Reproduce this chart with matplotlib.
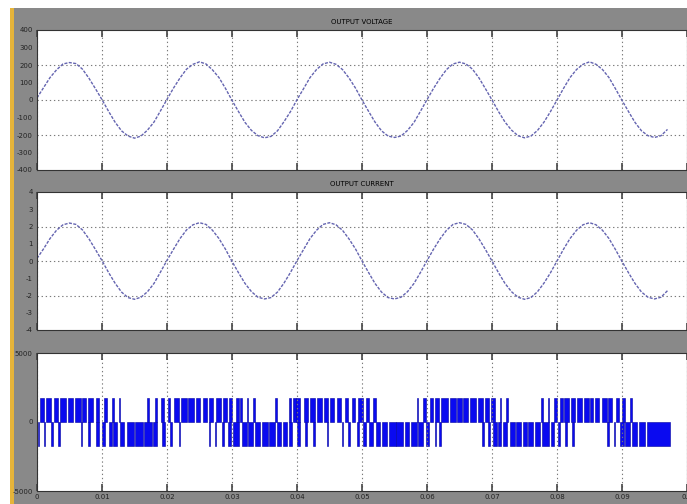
import numpy as np
import matplotlib
matplotlib.use("Agg")
import matplotlib.pyplot as plt
from matplotlib.patches import Rectangle

t_ms = np.arange(98)
voltage = [12, 70, 128, 172, 206, 214, 208, 176, 124, 64, 2, -64, -126, -176, -206, -218, -206, -172, -126, -62,
           4, 68, 126, 176, 204, 218, 206, 172, 128, 66, -2, -66, -128, -174, -204, -216, -208, -176, -124, -66,
           2, 64, 128, 174, 206, 216, 204, 174, 126, 68, 0, -64, -126, -176, -206, -214, -206, -174, -128, -64,
           2, 66, 124, 174, 206, 216, 206, 176, 126, 64, 0, -66, -126, -172, -204, -216, -206, -174, -126, -66,
           0, 66, 128, 174, 204, 218, 204, 174, 128, 64, -2, -66, -128, -176, -204, -214, -204, -168]
current = [0.15, 0.70, 1.30, 1.78, 2.10, 2.20, 2.12, 1.80, 1.28, 0.66, 0.02, -0.66, -1.28, -1.80, -2.12, -2.22, -2.10, -1.78, -1.30, -0.64,
           0.04, 0.68, 1.30, 1.80, 2.10, 2.22, 2.12, 1.78, 1.30, 0.68, -0.02, -0.68, -1.30, -1.78, -2.10, -2.20, -2.12, -1.80, -1.28, -0.66,
           0.02, 0.66, 1.30, 1.78, 2.12, 2.22, 2.10, 1.78, 1.28, 0.70, 0.00, -0.66, -1.30, -1.80, -2.12, -2.20, -2.10, -1.78, -1.30, -0.66,
           0.02, 0.68, 1.28, 1.78, 2.12, 2.22, 2.12, 1.80, 1.28, 0.66, 0.00, -0.68, -1.30, -1.78, -2.10, -2.22, -2.12, -1.78, -1.28, -0.68,
           0.00, 0.68, 1.30, 1.78, 2.10, 2.22, 2.10, 1.78, 1.30, 0.66, -0.02, -0.68, -1.30, -1.80, -2.10, -2.20, -2.10, -1.72]

# PWM pulses, (on, off) in ms
pos_pulses = [(0.5, 1.1), (1.4, 2.2), (2.6, 3.2), (3.6, 4.4), (4.7, 5.5), (5.9, 6.7), (6.9, 7.6), (7.9, 8.6),
              (9.0, 9.5), (10.3, 10.7), (11.5, 11.9), (12.6, 12.8), (16.9, 17.2), (18.2, 18.5), (19.1, 19.6),
              (20.1, 20.5), (21.1, 21.8), (22.2, 23.0), (23.3, 24.1), (24.4, 25.1),
              (25.6, 26.2), (26.5, 27.1), (27.5, 28.3), (28.6, 29.2), (29.6, 30.0), (30.6, 31.0), (31.2, 31.5),
              (32.3, 32.5), (33.3, 33.5), (36.6, 36.9), (38.7, 39.0), (39.4, 39.8), (39.9, 40.5), (41.0, 41.7),
              (42.0, 42.8), (43.0, 43.8), (44.1, 44.7), (45.1, 45.7), (46.2, 46.7), (47.4, 47.9), (48.4, 48.9),
              (49.4, 50.2),
              (50.6, 51.1), (51.7, 52.1), (58.4, 58.6), (59.4, 59.8), (60.4, 60.9), (61.2, 61.9), (62.2, 63.2),
              (63.5, 64.5), (64.6, 65.4), (65.5, 66.3), (66.6, 67.6), (67.8, 68.6), (68.9, 69.5), (69.9, 70.4),
              (71.2, 71.4), (72.2, 72.5),
              (77.6, 77.8), (78.6, 78.8), (79.5, 80.0), (80.5, 80.9), (81.0, 81.8), (82.2, 82.8), (83.1, 83.9),
              (84.1, 84.9), (85.1, 85.6), (85.8, 86.5), (86.9, 87.7), (87.9, 88.5), (89.0, 89.5), (90.0, 90.5),
              (91.3, 91.5)]
neg_pulses = [(0.1, 0.3), (1.0, 1.3), (2.2, 2.5), (3.2, 3.5), (6.7, 6.9), (7.9, 8.2), (9.0, 9.5), (10.0, 10.5),
              (11.0, 11.6), (11.7, 12.3), (12.8, 13.4), (13.8, 14.9), (15.1, 16.3), (16.5, 17.7), (17.9, 18.5),
              (19.2, 19.7), (20.5, 20.8), (21.8, 22.0),
              (26.4, 26.6), (27.4, 27.6), (28.4, 28.7), (29.4, 29.8), (30.2, 31.0), (31.5, 32.3), (32.5, 33.3),
              (33.5, 34.3), (34.6, 35.6), (35.7, 36.6), (36.9, 37.6), (37.9, 38.5), (38.7, 39.2), (40.0, 40.5),
              (41.2, 41.5), (42.5, 42.8), (44.6, 44.8), (46.9, 47.1), (47.9, 48.2), (49.2, 49.6),
              (50.2, 50.6), (51.1, 51.7), (52.1, 52.8), (53.0, 53.8), (54.1, 55.2), (55.2, 56.3), (56.6, 57.3),
              (57.6, 58.4), (58.6, 59.4), (59.9, 60.3), (61.2, 61.4), (61.9, 62.2), (68.4, 68.7), (69.4, 69.7),
              (70.2, 70.7), (71.0, 71.4), (71.7, 72.3), (72.7, 73.5), (73.7, 74.5), (74.7, 75.4),
              (75.5, 76.3), (76.6, 77.4), (77.7, 78.7), (79.0, 79.5), (80.2, 80.5), (81.3, 81.5), (82.3, 82.6),
              (87.7, 88.0), (88.7, 89.0), (89.7, 90.3), (90.5, 91.3), (91.5, 92.3), (92.6, 93.6), (93.9, 97.4)]
pulse_level = 1750

x_ticks = [0, 0.01, 0.02, 0.03, 0.04, 0.05, 0.06, 0.07, 0.08, 0.09, 0.1]
x_labels = ["0", "0.01", "0.02", "0.03", "0.04", "0.05", "0.06", "0.07", "0.08", "0.09", "0.1"]
v_ticks = [400, 300, 200, 100, 0, -100, -200, -300, -400]
i_ticks = [4, 3, 2, 1, 0, -1, -2, -3, -4]
p_ticks = [5000, 0, -5000]

W, H = 687, 504
fig = plt.figure(figsize=(W / 100, H / 100), dpi=100, facecolor="white")
fig.patches.append(Rectangle((14 / W, 0), 1, (H - 8) / H, transform=fig.transFigure,
                             facecolor="#898989", edgecolor="none", zorder=-2))
fig.patches.append(Rectangle((10 / W, 0), 4 / W, (H - 8) / H, transform=fig.transFigure,
                             facecolor="#e6b43a", edgecolor="none", zorder=-1))


def px_axes(top, bottom):
    return fig.add_axes([37 / W, (H - bottom) / H, 650 / W, (bottom - top) / H])


grid_kw = dict(linestyle=(0, (1.2, 2.5)), color="#7a7a7a", linewidth=0.8)


def style(ax, yt, grid_y, lim, show_x):
    ax.set_xlim(0, 0.1)
    ax.set_ylim(-lim, lim)
    ax.set_xticks(x_ticks)
    ax.set_xticklabels(x_labels if show_x else [])
    ax.set_yticks(yt)
    ax.set_yticklabels([str(v) for v in yt])
    ax.set_yticks(grid_y, minor=True)
    ax.tick_params(axis="x", direction="in", length=5, width=1.2, top=True, labelsize=5, pad=2,
                   color="#444", labelcolor="#222")
    ax.tick_params(axis="y", which="major", length=0, labelsize=5, pad=3, labelcolor="#222")
    ax.tick_params(axis="y", which="minor", direction="in", length=4, width=1.2, right=True, color="#444")
    ax.grid(axis="x", **grid_kw)
    for g in grid_y:
        ax.axhline(g, zorder=0, **grid_kw)
    for s in ax.spines.values():
        s.set_color("#333")
        s.set_linewidth(0.8)


trace = dict(color="#6464b0", linewidth=1.0, linestyle=(0, (2.2, 1.0)))

ax1 = px_axes(30, 170)
ax1.plot(t_ms / 1000, voltage, **trace)
style(ax1, v_ticks, [-200, 0, 200], 400, False)
ax1.set_title("OUTPUT VOLTAGE", fontsize=5, pad=4)

ax2 = px_axes(192, 330)
ax2.plot(t_ms / 1000, current, **trace)
style(ax2, i_ticks, [-2, 0, 2], 4, False)
ax2.set_title("OUTPUT CURRENT", fontsize=5, pad=4)

ax3 = px_axes(353, 491)
pos_on = [p[0] / 1000 for p in pos_pulses]
pos_w = [(p[1] - p[0]) / 1000 for p in pos_pulses]
neg_on = [p[0] / 1000 for p in neg_pulses]
neg_w = [(p[1] - p[0]) / 1000 for p in neg_pulses]
ax3.bar(pos_on, pulse_level, width=pos_w, align="edge", color="#0a0af0", edgecolor="#0000a0", linewidth=0.4)
ax3.bar(neg_on, -pulse_level, width=neg_w, align="edge", color="#0a0af0", edgecolor="#0000a0", linewidth=0.4)
style(ax3, p_ticks, [], 5000, True)

fig.savefig("out.png", dpi=100, facecolor=fig.get_facecolor())
